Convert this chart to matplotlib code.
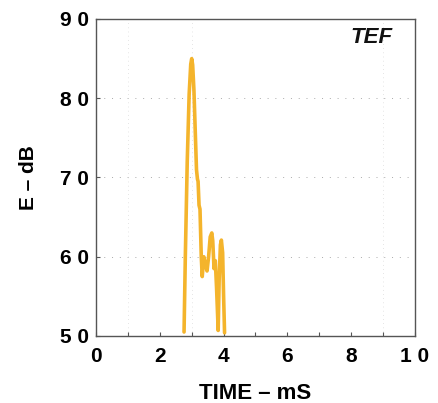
import matplotlib
matplotlib.use("Agg")
import matplotlib.pyplot as plt
from matplotlib.ticker import MultipleLocator

# data (time in ms, energy in dB)
time_ms = [2.76, 2.80, 2.86, 2.92, 2.97, 3.00, 3.03, 3.07, 3.11, 3.15, 3.18, 3.20, 3.23, 3.26, 3.30,
           3.33, 3.38, 3.43, 3.48, 3.53, 3.58, 3.63, 3.66, 3.70, 3.74, 3.78, 3.83, 3.86, 3.90, 3.93,
           3.97, 4.00, 4.03]
energy_db = [50.5, 60.0, 72.0, 80.5, 84.3, 85.0, 84.2, 81.0, 76.0, 71.0, 69.8, 69.5, 66.5, 66.0, 60.0,
             57.5, 60.0, 59.0, 58.2, 60.0, 62.5, 63.0, 62.0, 58.5, 59.5, 56.0, 50.7, 57.0, 61.5, 62.1,
             60.5, 55.0, 50.4]

x_ticks = [0, 2, 4, 6, 8, 10]
x_tick_labels = ["0", "2", "4", "6", "8", "1 0"]
y_ticks = [50, 60, 70, 80, 90]
y_tick_labels = ["5 0", "6 0", "7 0", "8 0", "9 0"]

plt.rcParams['font.family'] = ['Liberation Sans', 'DejaVu Sans']

fig = plt.figure(figsize=(4.39, 4.03), dpi=100)
ax = fig.add_axes([0.2187, 0.1663, 0.7266, 0.7866])

ax.plot(time_ms, energy_db, color="#F4B42C", lw=2.6, solid_joinstyle="round", solid_capstyle="round")

ax.set_xlim(0, 10)
ax.set_ylim(50, 90)
ax.set_xticks(x_ticks)
ax.set_xticklabels(x_tick_labels, fontsize=15, fontweight="bold")
ax.set_yticks(y_ticks)
ax.set_yticklabels(y_tick_labels, fontsize=15, fontweight="bold")
ax.xaxis.set_minor_locator(MultipleLocator(1))
ax.tick_params(axis="both", which="both", direction="in", length=3, width=0.8, color="#555555")
ax.tick_params(axis="x", pad=8)
ax.tick_params(axis="y", pad=5)

for yv in [60, 70, 80]:
    ax.axhline(yv, color="#aaaaaa", lw=0.7, ls=(0, (1, 7)), zorder=0)
for xv in [1, 3, 9]:
    ax.axvline(xv, color="#cccccc", lw=0.5, ls=(0, (1, 5)), zorder=0)

for s in ax.spines.values():
    s.set_color("#555555")
    s.set_linewidth(1.0)

ax.text(0.93, 0.975, "TEF", transform=ax.transAxes, ha="right", va="top",
        fontsize=16, fontweight="bold", fontstyle="italic", color="#111111")

ax.set_xlabel("TIME – mS", fontsize=16, fontweight="bold", labelpad=12)
ax.set_ylabel("E – dB", fontsize=15, fontweight="bold", labelpad=16)

fig.savefig("out.png", dpi=100, facecolor="white")
